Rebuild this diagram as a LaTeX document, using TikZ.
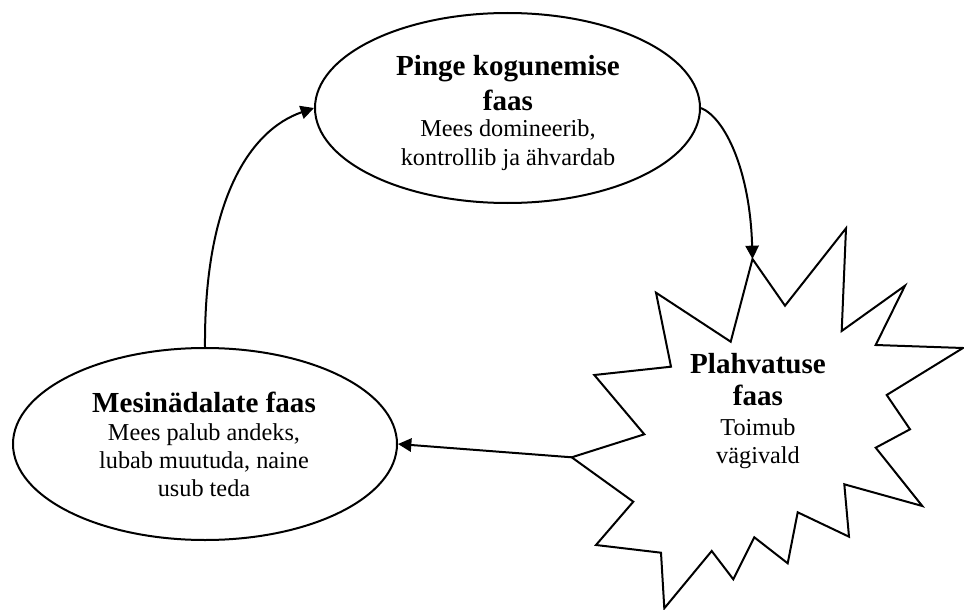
\documentclass[tikz,border=0pt]{standalone}
\usepackage{fontspec}
\setmainfont{Liberation Serif}
\usetikzlibrary{shapes.geometric,arrows.meta}
\tikzset{
  outline/.style={draw=black, line width=1.5pt},
  oval/.style={outline, ellipse, inner sep=0pt, fill=white},
  conn/.style={line width=1.5pt, -{Triangle[length=10pt,width=10pt]}},
  headtxt/.style={anchor=base, inner sep=0pt, font=\fontsize{21.8}{25}\selectfont\bfseries},
  bodytxt/.style={anchor=base, inner sep=0pt, font=\fontsize{18.2}{21}\selectfont},
}
\begin{document}
\begin{tikzpicture}[x=0.75pt, y=-0.75pt]
\useasboundingbox (0,0) rectangle (964,610);

% ellipses
\node[oval, minimum width=288.75pt, minimum height=142.5pt] (pinge) at (507.5,108) {};
\node[oval, minimum width=288pt, minimum height=144pt] (mesi) at (205,444) {};

% star (explosion) outline
\coordinate (startop) at (752.5,259);
\coordinate (starleft) at (571.7,457.3);
\draw[outline, line join=miter, fill=white]
  (startop) -- (785,305.7) -- (846,228.3) -- (841.7,331) -- (905,285.7)
  -- (875.7,345) -- (963,348) -- (886.7,395) -- (910,429.3) -- (875.7,447.7)
  -- (922.3,506) -- (844.3,484.3) -- (849,536.7) -- (797.7,512.3)
  -- (787.7,563.3) -- (754.3,537.3) -- (733.3,579.3) -- (711.7,551)
  -- (664.3,608.3) -- (661,552.7) -- (596,545) -- (633.3,501.7)
  -- (starleft) -- (644.3,434.3) -- (594.3,375) -- (671,366.7)
  -- (656,292.7) -- (730.7,341.7) -- cycle;

% texts: top ellipse
\node[headtxt] (p1) at (508,76) {Pinge kogunemise};
\node[headtxt] (p2) at (508,110) {faas};
\node[bodytxt] (p3) at (508,137) {Mees domineerib,};
\node[bodytxt] (p4) at (508,165) {kontrollib ja ähvardab};

% texts: bottom ellipse
\node[headtxt] (m1) at (204,412) {Mesinädalate faas};
\node[bodytxt] (m2) at (204,440) {Mees palub andeks,};
\node[bodytxt] (m3) at (204,468) {lubab muutuda, naine};
\node[bodytxt] (m4) at (204,496) {usub teda};

% texts: star
\node[headtxt] (s1) at (758,373) {Plahvatuse};
\node[headtxt] (s2) at (758,405) {faas};
\node[bodytxt] (s3) at (758,435) {Toimub};
\node[bodytxt] (s4) at (758,463) {vägivald};

% connectors
\draw[conn] (mesi.north) .. controls (204,200) and (250,130) .. (pinge.west);
\draw[conn] (pinge.east) .. controls (725,118) and (750,170) .. (startop);
\draw[conn] (starleft) -- (mesi.east);
\end{tikzpicture}
\end{document}
